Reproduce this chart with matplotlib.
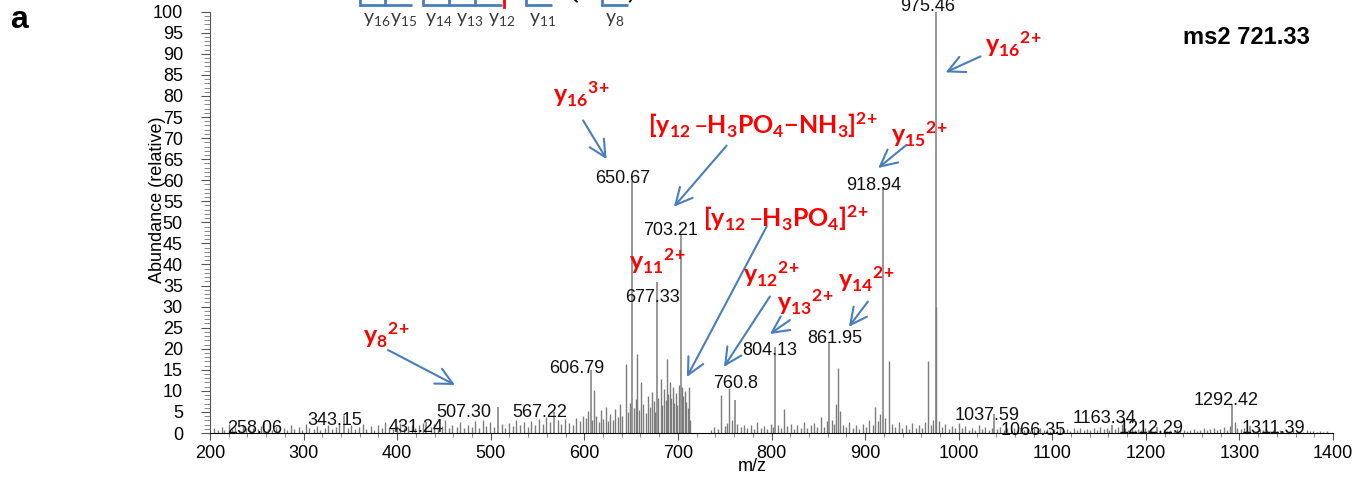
import matplotlib
matplotlib.use("Agg")
import matplotlib.pyplot as plt
from matplotlib.ticker import MultipleLocator

# labelled peaks
label_txt = ["258.06", "343.15", "431.24", "507.30", "567.22", "606.79", "650.67",
             "677.33", "703.21", "760.8", "804.13", "861.95", "918.94", "975.46",
             "1037.59", "1066.35", "1163.34", "1212.29", "1292.42", "1311.39"]
label_mz = [258.06, 343.15, 431.24, 507.7, 567.22, 606.79, 650.67,
            677.33, 703.21, 760.8, 804.13, 861.95, 918.94, 975.46,
            1037.59, 1066.35, 1163.34, 1212.29, 1292.42, 1311.39]
label_int = [2.6, 4.0, 2.7, 6.2, 4.9, 15.0, 59.7, 35.9, 47.0, 7.8, 20.5, 21.7,
             58.5, 100.0, 4.5, 1.3, 2.0, 1.4, 7.0, 1.6]
# where each m/z label sits (text centre x, baseline y)
label_pos = [(248, 0.0), (333, 1.9), (420.6, 0.2), (471.4, 3.8), (552.6, 3.8),
             (591.8, 14.3), (641.3, 59.4), (673.1, 31.2), (692.0, 47.0),
             (762.0, 10.7), (798.3, 18.5), (867.4, 21.4), (909.4, 57.7),
             (967.1, 100.1), (1030.1, 3.1), (1079.3, -0.5), (1156.2, 2.4),
             (1205.4, 0.0), (1285.5, 6.65), (1336.8, 0.0)]

# other peaks, 200-600
low_mz = [204.1, 208.3, 212.6, 215.2, 219.8, 223.4, 227.1, 231.5, 235.0, 238.7,
          242.9, 246.3, 250.8, 254.2, 262.5, 266.0, 270.4, 274.1, 278.6, 282.3,
          286.9, 290.2, 294.7, 298.3, 302.6, 306.1, 310.8, 314.4, 318.0, 322.7,
          326.2, 330.5, 334.9, 338.3, 347.6, 351.0, 355.4, 359.1, 363.7, 367.2,
          371.8, 375.3, 379.9, 383.4, 387.0, 391.5, 395.1, 399.6, 403.2, 407.8,
          411.3, 415.9, 419.4, 423.0, 427.5, 435.8, 439.3, 443.9, 447.4, 451.0,
          455.6, 459.1, 463.7, 467.2, 471.8, 475.3, 479.9, 483.4, 487.0, 491.6,
          495.1, 499.7, 503.2, 511.8, 515.4, 519.9, 523.5, 527.0, 531.6, 535.1,
          539.7, 543.2, 547.8, 551.3, 555.9, 559.4, 563.0, 571.7, 575.2, 579.8,
          583.3, 587.9, 591.4, 595.0, 598.6]
low_int = [1.2, 0.8, 1.5, 0.6, 2.1, 0.9, 1.4, 0.7, 1.8, 1.1,
           0.6, 1.3, 0.9, 1.7, 1.0, 0.7, 1.5, 0.8, 1.2, 0.6,
           1.9, 1.0, 1.4, 0.7, 2.2, 1.1, 0.9, 1.6, 0.8, 1.3,
           2.0, 1.0, 1.5, 2.4, 1.2, 1.8, 0.9, 1.4, 2.1, 1.0,
           1.6, 0.8, 1.9, 1.1, 2.6, 1.3, 0.9, 1.7, 2.3, 1.2,
           1.6, 2.0, 1.1, 1.8, 2.4, 1.4, 2.2, 1.0, 1.6, 3.0,
           1.2, 1.9, 1.4, 2.5, 1.1, 2.0, 1.5, 2.8, 1.3, 3.2,
           1.7, 2.6, 1.4, 2.1, 1.3, 2.4, 1.6, 3.1, 1.9, 2.7,
           1.5, 2.9, 2.0, 3.4, 2.2, 3.8, 2.5, 3.0, 2.1, 3.3,
           2.4, 2.0, 3.6, 2.8, 4.1]

# 600-715 cluster
mid_mz = [601.8, 604.2, 608.5, 610.3, 612.9, 615.4, 617.7, 620.1, 622.8, 625.0,
          627.6, 630.2, 633.0, 635.5, 638.1, 640.4, 644.0, 646.3, 648.5, 653.0,
          654.8, 656.7, 658.9, 661.0, 663.2, 665.4, 667.5, 669.8, 672.0, 674.1,
          675.5, 679.2, 681.5, 683.3, 685.4, 686.8, 688.0, 689.7, 691.5, 693.0,
          694.6, 696.2, 698.0, 699.5, 701.1, 704.2, 705.8, 707.3, 708.9, 710.4,
          711.8, 713.2]
mid_int = [3.5, 5.2, 3.1, 10.2, 4.0, 2.6, 5.5, 3.3, 6.1, 2.9,
           4.4, 3.2, 5.8, 3.7, 6.8, 4.1, 16.4, 5.0, 7.2, 6.0,
           8.1, 18.8, 5.4, 12.2, 7.0, 4.8, 8.9, 6.2, 9.8, 7.5,
           5.1, 8.3, 12.8, 6.7, 10.4, 7.9, 17.6, 9.2, 12.0, 8.4,
           10.9, 7.1, 9.5, 6.6, 11.5, 11.0, 8.8, 9.9, 7.3, 6.0,
           10.9, 3.2]

# 735-1000
hi_mz = [735.5, 738.9, 742.4, 746.4, 749.8, 752.0, 754.6, 757.3, 763.2, 766.9,
         770.5, 774.1, 777.6, 781.2, 784.8, 788.3, 791.9, 795.4, 799.0, 801.6,
         806.9, 810.3, 813.3, 816.8, 820.4, 823.9, 827.5, 831.1, 834.6, 838.2,
         841.7, 845.3, 848.8, 853.0, 856.4, 859.5, 864.5, 867.0, 869.3, 871.0,
         873.5, 876.2, 879.8, 883.3, 886.9, 890.4, 894.0, 897.6, 901.1, 904.7,
         908.2, 910.5, 913.4, 916.2, 921.6, 925.6, 929.0, 932.5, 936.1, 939.6,
         943.2, 946.7, 950.3, 953.9, 957.4, 961.0, 964.0, 966.8, 970.0, 973.0,
         976.2, 978.8, 982.3, 985.9, 989.4, 993.0, 996.5]
hi_int = [0.8, 1.5, 1.0, 9.0, 1.6, 2.4, 10.7, 3.0, 2.2, 1.4,
          2.0, 1.1, 1.8, 0.9, 2.5, 1.3, 1.7, 1.0, 2.1, 1.5,
          2.0, 1.2, 5.7, 1.6, 2.2, 1.0, 1.9, 1.3, 2.6, 1.1,
          1.8, 2.3, 1.4, 3.9, 1.5, 2.8, 3.0, 2.1, 7.0, 15.4,
          5.2, 2.0, 1.4, 2.5, 1.2, 1.9, 1.0, 2.2, 1.5, 3.1,
          1.8, 6.2, 2.9, 4.5, 3.5, 17.2, 2.1, 1.4, 2.7, 1.2,
          1.9, 1.0, 2.4, 1.3, 1.8, 1.1, 2.6, 17.1, 2.0, 3.2,
          30.0, 2.8, 1.4, 2.1, 1.0, 1.7, 1.2]

# 1000-1400
top_mz = [1000.1, 1003.6, 1007.2, 1010.8, 1014.3, 1017.9, 1021.4, 1025.0, 1028.5, 1032.1,
          1035.6, 1041.2, 1044.7, 1048.3, 1051.8, 1055.4, 1058.9, 1062.5, 1069.6, 1073.1,
          1076.7, 1080.2, 1083.8, 1087.3, 1090.9, 1094.4, 1098.0, 1101.6, 1105.1, 1108.7,
          1112.2, 1115.8, 1119.3, 1122.9, 1126.4, 1130.0, 1133.5, 1137.1, 1140.6, 1144.2,
          1147.7, 1151.3, 1154.8, 1158.4, 1161.0, 1166.9, 1170.5, 1174.0, 1177.6, 1181.1,
          1184.7, 1188.2, 1191.8, 1195.3, 1198.9, 1202.4, 1206.0, 1209.5, 1215.6, 1219.1,
          1222.7, 1226.2, 1229.8, 1233.3, 1236.9, 1240.4, 1244.0, 1247.5, 1251.1, 1254.6,
          1258.2, 1261.7, 1265.3, 1268.8, 1272.4, 1275.9, 1279.5, 1283.0, 1286.6, 1290.1,
          1295.0, 1297.7, 1301.2, 1304.8, 1308.3, 1315.0, 1318.5, 1322.1, 1325.6, 1329.2,
          1332.7, 1336.3, 1339.8, 1343.4, 1346.9, 1350.5, 1354.0, 1357.6, 1361.1, 1364.7,
          1368.2, 1371.8, 1375.3, 1378.9, 1382.4, 1386.0, 1389.5, 1393.1]
top_int = [2.3, 1.1, 1.6, 0.8, 1.3, 0.7, 1.9, 1.0, 1.4, 0.8,
           1.2, 1.0, 1.5, 0.7, 1.2, 0.6, 1.1, 0.8, 0.7, 1.0,
           0.5, 1.2, 0.8, 1.1, 0.6, 0.9, 0.5, 1.0, 0.7, 1.2,
           0.6, 0.9, 0.5, 1.1, 0.7, 1.3, 0.8, 1.0, 0.6, 1.2,
           0.8, 1.5, 0.9, 1.1, 0.7, 1.0, 1.4, 2.2, 1.1, 0.8,
           1.3, 0.7, 1.0, 0.6, 1.2, 0.7, 0.9, 0.5, 0.7, 1.0,
           0.5, 0.8, 0.4, 0.9, 0.6, 0.8, 0.4, 0.7, 1.0, 0.5,
           0.8, 1.1, 0.6, 0.9, 1.2, 0.7, 1.0, 1.4, 0.8, 1.6,
           2.6, 1.3, 0.9, 1.2, 0.7, 0.8, 0.5, 0.9, 0.6, 0.8,
           0.4, 0.7, 0.5, 0.8, 0.4, 0.6, 0.3, 0.7, 0.4, 0.5,
           0.3, 0.6, 0.4, 0.5, 0.3, 0.4, 0.3, 0.4]

# ion annotations: text, text anchor (left, baseline), arrow tail, arrow head
ion_labels = [
    (r"$y_{16}{}^{3\!+}$", (566.5, 78.4), (598.7, 74.2), (623.8, 65.0)),
    (r"$[y_{12}\,–H_3PO_4{-}NH_3]^{2\!+}$", (668.0, 71.0), (752.0, 68.2), (695.7, 53.7)),
    (r"$y_{15}{}^{2\!+}$", (927.6, 68.9), (944.3, 68.4), (914.0, 62.9)),
    (r"$y_{16}{}^{2\!+}$", (1028.0, 90.1), (1023.4, 89.4), (986.0, 85.6)),
    (r"$[y_{12}\,–H_3PO_4]^{2\!+}$", (726.4, 48.9), (794.8, 49.0), (709.6, 13.3)),
    (r"$y_{11}{}^{2\!+}$", (647.7, 38.7), None, None),
    (r"$y_{12}{}^{2\!+}$", (769.5, 35.6), (798.3, 32.4), (749.2, 15.7)),
    (r"$y_{13}{}^{2\!+}$", (805.7, 29.0), (819.7, 26.8), (798.3, 23.5)),
    (r"$y_{14}{}^{2\!+}$", (871.0, 34.4), (903.0, 31.2), (882.7, 25.2)),
    (r"$y_{8}{}^{2\!+}$", (363.5, 21.1), (390.2, 19.7), (461.8, 11.4)),
]

# fragment map at the top (partly cut off)
frag_names = [r"$y_{16}$", r"$y_{15}$", r"$y_{14}$", r"$y_{13}$", r"$y_{12}$", r"$y_{11}$", r"$y_{8}$"]
frag_x = [378.1, 407.3, 444.1, 477.8, 511.4, 555.2, 632.7]

plt.rcParams['font.family'] = ['Liberation Sans', 'DejaVu Sans']
plt.rcParams['mathtext.default'] = 'regular'

fig = plt.figure(figsize=(13.67, 4.79), dpi=100)
ax = fig.add_axes([0.15362, 0.09603, 0.82151, 0.87954])

pcol = '#7c7c7c'
for mzs, ints in [(low_mz, low_int), (mid_mz, mid_int), (hi_mz, hi_int), (top_mz, top_int)]:
    ax.vlines(mzs, 0, ints, color=pcol, lw=1.0)
ax.vlines(label_mz, 0, label_int, color=pcol, lw=1.1)

for txt, (x, y) in zip(label_txt, label_pos):
    ax.text(x, y, txt, ha='center', va='baseline', fontsize=13, color='#111111', clip_on=False)

ax.set_xlim(200, 1400)
ax.set_ylim(0, 100)
ax.spines['top'].set_visible(False)
ax.spines['right'].set_visible(False)
ax.spines['left'].set_color('#555555')
ax.xaxis.set_major_locator(MultipleLocator(100))
ax.xaxis.set_minor_locator(MultipleLocator(20))
ax.yaxis.set_major_locator(MultipleLocator(5))
ax.yaxis.set_minor_locator(MultipleLocator(1))
ax.tick_params(axis='y', which='major', length=6.5, width=0.8, pad=13, labelsize=13, color='#555555')
ax.tick_params(axis='y', which='minor', length=4, width=0.6, color='#777777')
ax.tick_params(axis='x', which='major', length=5, width=0.8, pad=3.5, labelsize=13, color='#555555')
ax.tick_params(axis='x', which='minor', length=3, width=0.6, color='#777777')
ax.set_xlabel('m/z', fontsize=13)
ax.xaxis.set_label_coords((779 - 200) / 1200, -0.059)
ax.xaxis.label.set_va('top')

fig.text(157 / 1367, 1 - 200 / 479, 'Abundance (relative)', rotation=90,
         ha='center', va='center', fontsize=13)
fig.text(10 / 1367, 1 - 28.3 / 479, 'a', fontsize=23, fontweight='bold', ha='left', va='baseline')
ax.text(1375, 92.3, 'ms2 721.33', fontsize=17, fontweight='bold', ha='right', va='baseline')

blue = '#4A7EBB'
for txt, (tx, ty), tail, head in ion_labels:
    ax.text(tx, ty, txt, color='red', fontsize=18, family='Lato', fontweight='bold',
            ha='left', va='baseline', clip_on=False)
    if tail is not None:
        ax.annotate('', xy=head, xytext=tail, annotation_clip=False,
                    arrowprops=dict(arrowstyle='->,head_length=0.6,head_width=0.3',
                                    color=blue, lw=1.5, shrinkA=0, shrinkB=0,
                                    mutation_scale=20))

# fragment map brackets
for x0, x1 in [(360.3, 415.5), (427.6, 512.0), (537.3, 565.1), (618.5, 646.6)]:
    ax.plot([x0, x1], [101.6, 101.6], color=blue, lw=2, clip_on=False, solid_capstyle='butt')
for xv in [360.3, 387.0, 427.6, 455.3, 483.1, 537.3, 618.5]:
    ax.plot([xv, xv], [101.6, 103.5], color=blue, lw=2, clip_on=False)
ax.plot([514.1, 514.1], [101.2, 103.5], color='red', lw=2, clip_on=False)
ax.plot([589.0, 592.0], [103.0, 102.4], color='black', lw=1.3, clip_on=False)
ax.plot([648.7, 650.5], [102.4, 103.0], color='black', lw=1.3, clip_on=False)
for name, x in zip(frag_names, frag_x):
    ax.text(x, 97.4, name, ha='center', va='baseline', fontsize=14, family='Lato',
            color='#3a3a3a', clip_on=False)

fig.savefig('out.png', dpi=100)
